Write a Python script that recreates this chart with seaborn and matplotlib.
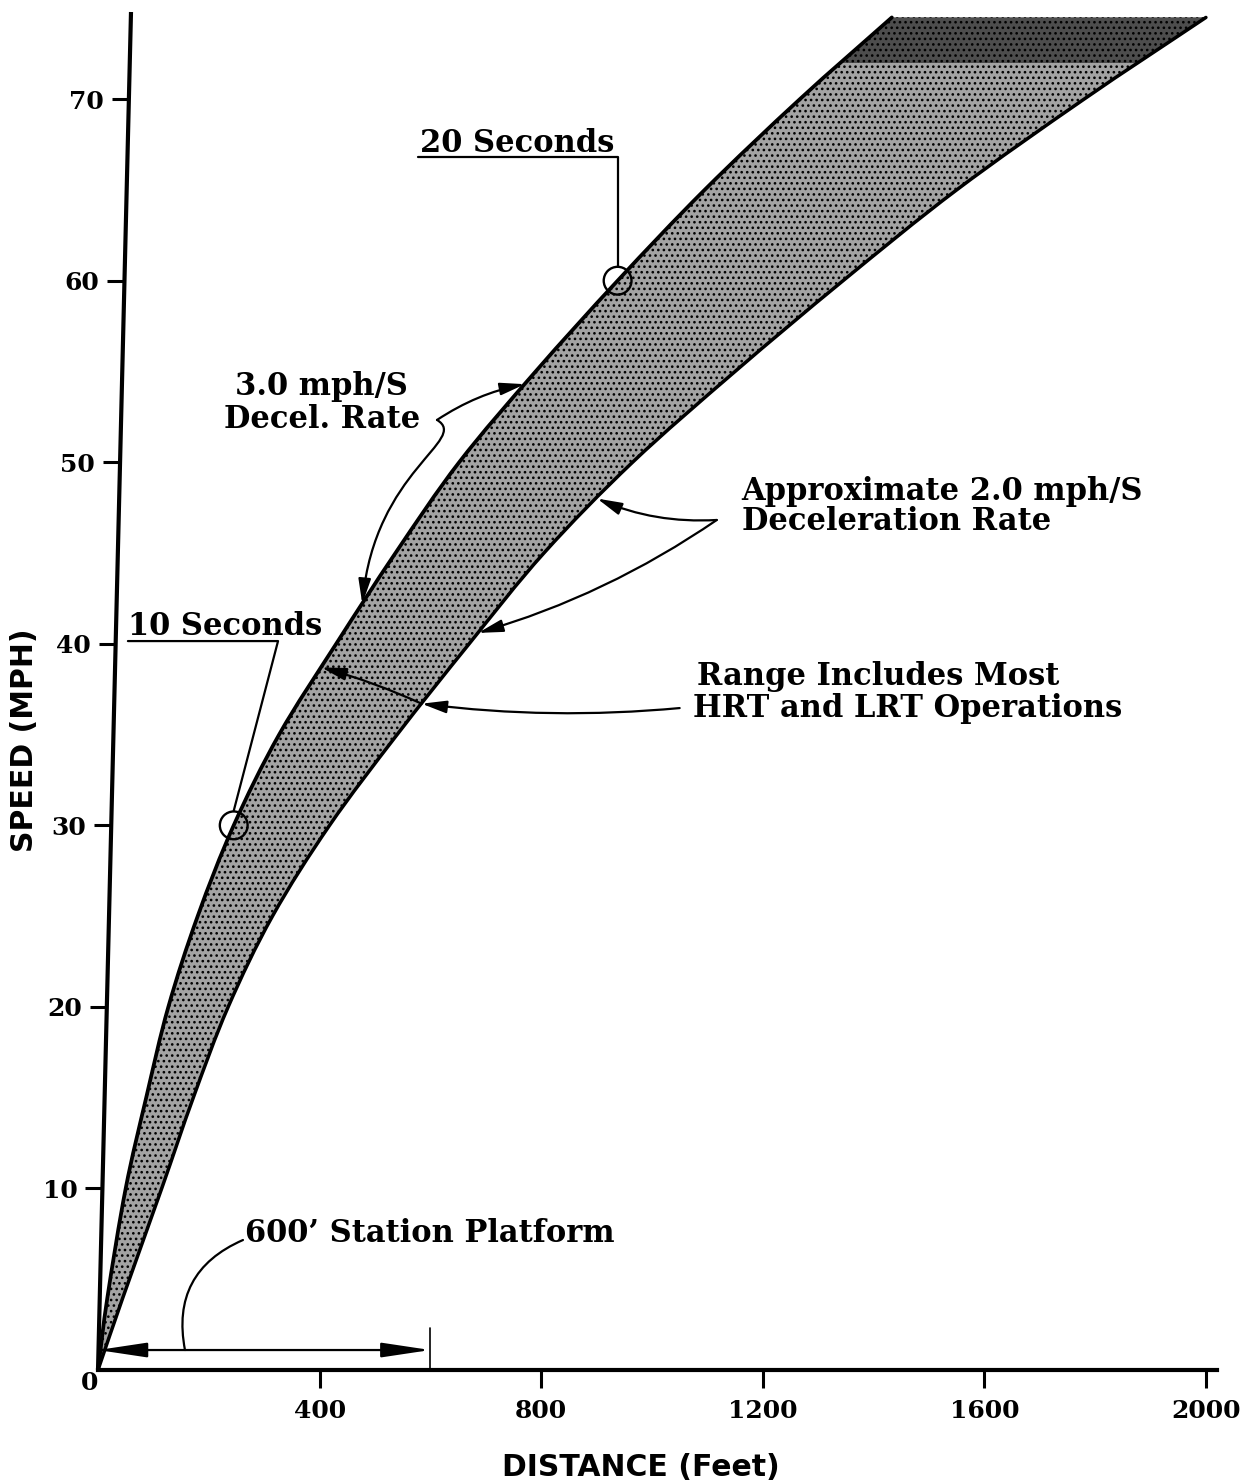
import numpy as np
import matplotlib
matplotlib.use("Agg")
import matplotlib.pyplot as plt
import seaborn as sns
from matplotlib.path import Path
from matplotlib.patches import FancyArrowPatch, PathPatch
from matplotlib.transforms import ScaledTranslation

# Braking envelope: speed (mph) against stopping distance (feet)
speed_mph = [0, 4, 10, 15, 20, 25, 30, 35, 40, 45, 50, 55, 60, 65, 70, 74.5]
dist_3mphs = [0, 17, 50, 87, 127, 180, 245, 327, 430, 537, 652, 790, 938, 1095, 1267, 1433]
dist_2mphs = [0, 45, 115, 172, 235, 315, 418, 540, 670, 805, 965, 1150, 1345, 1550, 1780, 2000]

x_ticks = [400, 800, 1200, 1600, 2000]
y_ticks = [10, 20, 30, 40, 50, 60, 70]

# speed reached after 10 s and 20 s at 3.0 mph/s
marker_speeds = [30, 60]
marker_labels = ["10 Seconds", "20 Seconds"]
platform_ft = 600
dense_from_mph = 72

sns.set_theme(style="white")
plt.rcParams["hatch.linewidth"] = 1.1
plt.rcParams["hatch.color"] = "black"
plt.rcParams["text.color"] = "black"

SERIF = ["DejaVu Serif"]
SANS = ["DejaVu Sans"]
NOTE = dict(family=SERIF, fontweight="bold", fontsize=22, color="black")

W, H = 1245, 1481
fig = plt.figure(figsize=(W / 100, H / 100), dpi=100)
fig.patch.set_facecolor("white")
ax = fig.add_axes([98 / W, 111 / H, 1119 / W, 1358 / H])
ax.set_facecolor("white")
XMAX, YMAX = 2020, 74.8
ax.set_xlim(0, XMAX)
ax.set_ylim(0, YMAX)


def smooth_curve(xs, ys):
    """Catmull-Rom curve through the given points, as cubic Bezier pieces."""
    p = np.column_stack([xs, ys]).astype(float)
    ext = np.vstack([2 * p[0] - p[1], p, 2 * p[-1] - p[-2]])
    verts, codes = [p[0]], [Path.MOVETO]
    for i in range(len(p) - 1):
        a, b, c, d = ext[i], ext[i + 1], ext[i + 2], ext[i + 3]
        verts += [b + (c - a) / 6, c - (d - b) / 6, c]
        codes += [Path.CURVE4] * 3
    return np.array(verts), codes


up_v, up_c = smooth_curve(dist_3mphs, speed_mph)
lo_v, lo_c = smooth_curve(dist_2mphs[::-1], speed_mph[::-1])

# stippled band between the two deceleration curves
band_path = Path(np.vstack([up_v, lo_v, up_v[:1]]),
                 up_c + [Path.LINETO] + lo_c[1:] + [Path.CLOSEPOLY])
band = PathPatch(band_path, facecolor="#a3a3a3", edgecolor="black", hatch="...",
                 linewidth=0, zorder=1)
ax.add_patch(band)
cap = ax.axhspan(dense_from_mph, YMAX, facecolor="#4d4d4d", edgecolor="black",
                 hatch="...", linewidth=0, zorder=1.5)
cap.set_clip_path(band)

for v, c, lw in [(up_v, up_c, 2.7), (lo_v, lo_c, 2.5)]:
    ax.add_patch(PathPatch(Path(v, c), facecolor="none", edgecolor="black",
                           linewidth=lw, zorder=3, capstyle="round"))

# open circles on the 3.0 mph/s curve
marker_dist = np.interp(marker_speeds, speed_mph, dist_3mphs)
sns.scatterplot(x=marker_dist, y=marker_speeds, marker="o", s=400,
                facecolor="none", edgecolor="black", linewidth=1.7,
                ax=ax, zorder=4, legend=False)
ax.collections[-1].set_facecolor("none")
r_mph = 0.8

# axes styling
for s in ["top", "right", "left"]:
    ax.spines[s].set_visible(False)
ax.spines["bottom"].set_linewidth(3)
ax.spines["bottom"].set_color("black")
ax.plot([0, 33 / 1119], [0, 1], transform=ax.transAxes, color="black",
        lw=3, clip_on=False, solid_capstyle="butt", zorder=5)

ax.set_xticks(x_ticks)
ax.set_yticks(y_ticks)
ax.tick_params(axis="x", direction="out", length=13, width=2.2, pad=8,
               labelsize=18, colors="black", bottom=True)
ax.tick_params(axis="y", direction="out", length=12, width=2.2, pad=6,
               labelsize=18, colors="black", left=True)
for lbl in ax.get_xticklabels() + ax.get_yticklabels():
    lbl.set_fontfamily(SERIF)
    lbl.set_fontweight("bold")

# the hand-drawn vertical axis leans to the right; shift its ticks along
for tick in ax.yaxis.get_major_ticks():
    dx = 33 * tick.get_loc() / YMAX / fig.dpi
    off = ScaledTranslation(dx, 0, fig.dpi_scale_trans)
    tick.tick1line.set_transform(tick.tick1line.get_transform() + off)
    tick.label1.set_transform(tick.label1.get_transform() + off)

ax.annotate("0", xy=(0, 0), xytext=(-6, -9.5), textcoords="offset points",
            ha="center", va="center", family=SERIF, fontweight="bold",
            fontsize=18, color="black", annotation_clip=False)

ax.set_xlabel("DISTANCE (Feet)", family=SANS, fontweight="bold",
              fontsize=21.5, color="black")
ax.xaxis.set_label_coords(0.485, (1370 - 1476) / 1358)
ax.xaxis.label.set_va("baseline")
ax.set_ylabel("SPEED (MPH)", family=SANS, fontweight="bold",
              fontsize=21.5, color="black")
ax.yaxis.set_label_coords((24 - 98) / 1119, (1370 - 740) / 1358)
ax.yaxis.label.set_va("center")


def on_curve(speed, dist):
    return (float(np.interp(speed, speed_mph, dist)), speed)


HEAD = "-|>,head_length=1.0,head_width=0.25"


def leader(start, end, rad=0.0, head=True, lw=1.6):
    ax.annotate("", xy=end, xytext=start,
                arrowprops=dict(arrowstyle=HEAD if head else "-",
                                mutation_scale=15, lw=lw, color="black",
                                shrinkA=0, shrinkB=0,
                                connectionstyle=f"arc3,rad={rad}"),
                annotation_clip=False, zorder=6)


# "10 Seconds" / "20 Seconds" call-outs
ax.text(54, 40.48, marker_labels[0], ha="left", va="baseline", **NOTE)
ax.plot([54, 325, marker_dist[0]], [40.15, 40.15, marker_speeds[0] + r_mph],
        color="black", lw=1.6, zorder=6)
ax.text(581, 67.09, marker_labels[1], ha="left", va="baseline", **NOTE)
ax.plot([578, marker_dist[1], marker_dist[1]],
        [66.81, 66.81, marker_speeds[1] + r_mph], color="black", lw=1.6, zorder=6)

# 3.0 mph/S call-out with its brace
ax.text(404, 53.70, "3.0 mph/S", ha="center", va="baseline", **NOTE)
ax.text(404, 51.89, "Decel. Rate", ha="center", va="baseline", **NOTE)
brace = (612, 52.33)
leader(brace, on_curve(54.3, dist_3mphs), rad=-0.1)
tip = on_curve(42.2, dist_3mphs)
arm = Path([brace, (671.5, 51.23), (500.0, 49.57), tip],
           [Path.MOVETO, Path.CURVE4, Path.CURVE4, Path.CURVE4])
ax.add_patch(FancyArrowPatch(path=arm, arrowstyle=HEAD, mutation_scale=15,
                             lw=1.6, color="black", zorder=6))

# 2.0 mph/S call-out
ax.text(1162, 47.92, "Approximate 2.0 mph/S", ha="left", va="baseline", **NOTE)
ax.text(1162, 46.27, "Deceleration Rate", ha="left", va="baseline", **NOTE)
hub = (1117, 46.82)
leader(hub, on_curve(48.0, dist_2mphs), rad=-0.12)
leader(hub, on_curve(40.6, dist_2mphs), rad=-0.08)

# range call-out
ax.text(1081, 37.73, "Range Includes Most", ha="left", va="baseline", **NOTE)
ax.text(1074, 35.97, "HRT and LRT Operations", ha="left", va="baseline", **NOTE)
low_pt = on_curve(36.7, dist_2mphs)
leader((1050, 36.46), low_pt, rad=-0.055)
leader(low_pt, on_curve(38.7, dist_3mphs), rad=0.04)

# station platform dimension
ax.annotate("", xy=(platform_ft, 1.1), xytext=(0, 1.1),
            arrowprops=dict(arrowstyle="<|-|>,head_length=2.0,head_width=0.3",
                            mutation_scale=15, lw=1.6, color="black",
                            shrinkA=0, shrinkB=0), zorder=6)
ax.plot([platform_ft, platform_ft], [0, 2.3], color="black", lw=1.2, zorder=6)
ax.text(265, 7.05, "600\u2019 Station Platform", ha="left", va="baseline", **NOTE)
leader((261.7, 7.16), (157, 1.1), rad=0.4, head=False)

fig.savefig("out.png", dpi=100, facecolor="white")
